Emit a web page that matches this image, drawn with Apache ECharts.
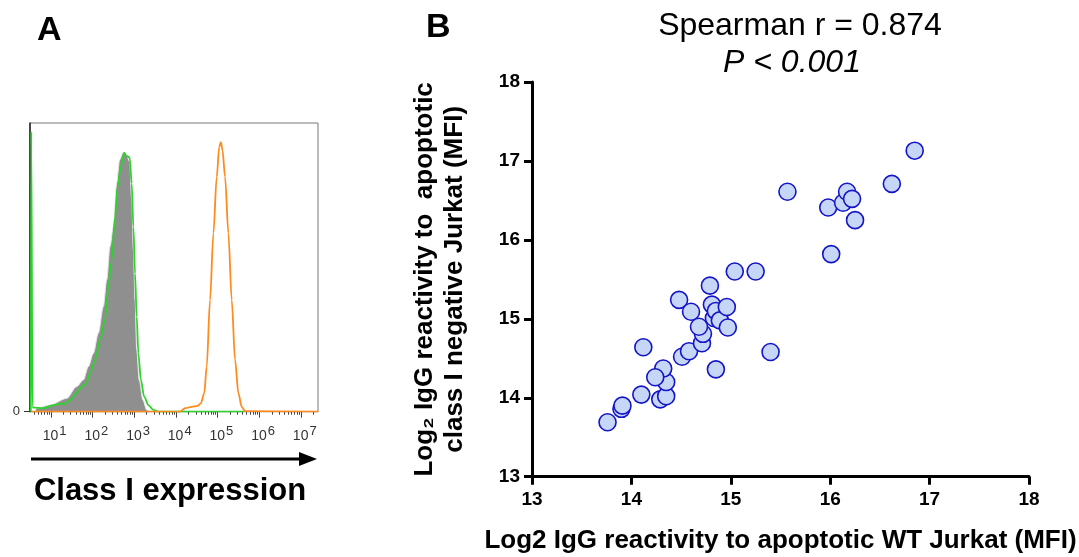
<!DOCTYPE html>
<html>
<head>
<meta charset="utf-8">
<script src="https://cdn.jsdelivr.net/npm/echarts@6/dist/echarts.min.js"></script>
<style>
html, body { margin: 0; padding: 0; background: #fff; }
#chart { width: 1079px; height: 557px; }
</style>
</head>
<body>
<div id="chart"></div>
<script>
// Panel A - flow histograms, x = log10(fluorescence), y = % of frame height
var isoGray = [[0.62,0],[0.66,1.2],[0.98,2.3],[1.38,4.6],[1.62,8.7],[1.78,11],[1.90,15.6],[2.02,20.2],
  [2.14,27.2],[2.26,36.4],[2.34,45.6],[2.42,57.2],[2.50,64.1],[2.58,79.1],[2.65,87.2],[2.73,89.7],
  [2.81,89.3],[2.89,86.6],[2.94,73.3],[2.98,56],[3.02,38.7],[3.06,21.4],[3.12,11],[3.21,4],[3.30,0.6],[3.38,0]];
var negGreen = [[0.52,0],[0.53,97],[0.56,1.5],[0.82,1.2],[1.06,2.3],[1.22,2.7],[1.34,2.7],[1.46,4],[1.62,6.4],
  [1.74,8.7],[1.86,9.8],[1.94,13.3],[2.06,17.9],[2.18,24.8],[2.30,31.7],[2.38,43.2],[2.46,52.4],[2.54,67.4],
  [2.60,77.8],[2.68,84.8],[2.76,89.7],[2.81,88.6],[2.89,88.1],[2.94,79.1],[2.98,64.1],[3.02,47.9],[3.06,32.9],
  [3.10,20.2],[3.16,11],[3.24,5.2],[3.34,2.3],[3.46,0.6],[3.58,0],[5.62,0]];
var wtOrange = [[0.54,0],[4.10,0],[4.22,1.2],[4.38,1.7],[4.52,2],[4.60,2.9],[4.68,6.4],[4.74,15.6],[4.82,38.7],
  [4.90,61.8],[4.98,81.3],[5.04,91.7],[5.08,93.4],[5.12,90.5],[5.18,81.3],[5.26,61.8],[5.34,38.7],[5.42,17.9],
  [5.50,6.4],[5.58,1.7],[5.66,0.2],[7.42,0]];
var decades = [1, 2, 3, 4, 5, 6, 7];

// Panel B - log2 IgG reactivity (MFI)
var wtJurkat = [13.76,13.90,13.91,14.10,14.12,14.29,14.35,14.35,14.32,14.24,14.51,14.58,14.48,14.60,14.71,14.72,
  14.68,14.79,14.81,14.83,14.85,14.89,14.96,14.97,14.85,15.04,15.25,15.40,16.01,15.57,15.98,16.13,16.17,16.22,
  16.25,16.62,16.85];
var negJurkat = [13.69,13.86,13.90,14.04,14.64,13.98,14.02,14.20,14.37,14.26,14.52,14.59,15.24,15.09,14.69,14.81,
  14.90,15.42,15.18,15.01,15.10,14.98,15.15,14.89,14.36,15.60,15.60,14.58,15.82,16.61,16.41,16.47,16.61,16.52,
  16.25,16.71,17.13];

var minorTicks = [];
decades.concat([0]).forEach(function (d) {
  for (var k = 2; k <= 9; k++) minorTicks.push(d + Math.log10(k));
});

var points = wtJurkat.map(function (x, i) { return [x, negJurkat[i]]; });

var chart = echarts.init(document.getElementById('chart'));
var bold = { fontFamily: 'Liberation Sans, Arial, sans-serif', fontWeight: 'bold', color: '#000' };

option = {
  backgroundColor: '#fff',
  animation: false,
  grid: [
    { left: 30, top: 123, width: 288, height: 288.7, show: true, borderColor: '#777', borderWidth: 1,
      outerBoundsMode: 'none' },
    { left: 532, right: 50, top: 82, bottom: 80.3, outerBoundsMode: 'none' }
  ],
  xAxis: [
    {
      gridIndex: 0, type: 'value', min: 0.5, max: 7.41, position: 'bottom',
      axisLine: { show: false }, splitLine: { show: false },
      axisTick: { customValues: decades, length: 6, lineStyle: { color: '#444' } },
      axisLabel: {
        customValues: decades, margin: 13, color: '#333',
        // "10" sits on the tick, exponent hangs to its right
        formatter: function (v) { var n = Math.round(v); return '{g|' + n + '}{b|10}{s|' + n + '}'; },
        rich: {
          g: { fontSize: 12, fontFamily: 'Liberation Sans', color: 'rgba(0,0,0,0)', padding: [0, 1, 0, 0] },
          b: { fontSize: 14, fontFamily: 'Liberation Sans', color: '#333' },
          s: { fontSize: 13, fontFamily: 'Liberation Sans', color: '#333', padding: [0, 0, 10, 1] }
        }
      }
    },
    {
      gridIndex: 0, type: 'value', min: 0.5, max: 7.41, position: 'bottom',
      axisLine: { show: false }, splitLine: { show: false }, axisLabel: { show: false },
      axisTick: { customValues: minorTicks, length: 3, lineStyle: { color: '#444' } }
    },
    {
      gridIndex: 1, type: 'value', min: 13, max: 18, interval: 1,
      name: 'Log2 IgG reactivity to apoptotic WT Jurkat (MFI)',
      nameLocation: 'middle', nameGap: 51,
      nameTextStyle: Object.assign({ fontSize: 26 }, bold),
      axisLine: { lineStyle: { color: '#000', width: 3 } },
      axisTick: { length: 8, lineStyle: { color: '#000', width: 3 } },
      axisLabel: Object.assign({ fontSize: 19, margin: 14 }, bold),
      splitLine: { show: false }
    }
  ],
  yAxis: [
    {
      gridIndex: 0, type: 'value', min: 0, max: 100,
      axisLine: { show: true, lineStyle: { color: '#222', width: 1.5 } },
      axisTick: { customValues: [0], length: 6, lineStyle: { color: '#333' } },
      axisLabel: { customValues: [0], fontSize: 13, color: '#333', margin: 10 },
      splitLine: { show: false }
    },
    {
      gridIndex: 1, type: 'value', min: 13, max: 18, interval: 1,
      name: 'Log\u2082 IgG reactivity to  apoptotic\nclass I negative Jurkat (MFI)',
      nameLocation: 'middle', nameGap: 62, nameRotate: 90,
      nameTextStyle: Object.assign({ fontSize: 26, lineHeight: 30 }, bold),
      axisLine: { lineStyle: { color: '#000', width: 3 } },
      axisTick: { length: 8, lineStyle: { color: '#000', width: 3 } },
      axisLabel: Object.assign({ fontSize: 19, margin: 12 }, bold),
      splitLine: { show: false }
    }
  ],
  series: [
    {
      type: 'line', xAxisIndex: 0, yAxisIndex: 0, data: isoGray, symbol: 'none',
      smooth: 0.3, smoothMonotone: 'x',
      lineStyle: { color: '#e6e6e6', width: 1 },
      areaStyle: { color: '#8f8f8f', opacity: 1 }
    },
    {
      type: 'line', xAxisIndex: 0, yAxisIndex: 0, data: negGreen, symbol: 'none',
      smooth: 0.3, smoothMonotone: 'x',
      lineStyle: { color: '#2bd42b', width: 1.8 }
    },
    {
      type: 'line', xAxisIndex: 0, yAxisIndex: 0, data: wtOrange, symbol: 'none',
      smooth: 0.3, smoothMonotone: 'x',
      lineStyle: { color: '#ff8a1e', width: 1.8 }
    },
    {
      type: 'scatter', xAxisIndex: 2, yAxisIndex: 1, data: points,
      symbol: 'circle', symbolSize: 17,
      itemStyle: { color: '#c6d6f6', borderColor: '#1414c8', borderWidth: 1.6, opacity: 1 }
    }
  ],
  graphic: [
    { type: 'text', left: 37, top: 14, style: { text: 'A', font: 'bold 34px Liberation Sans', fill: '#000' } },
    { type: 'text', left: 426, top: 11, style: { text: 'B', font: 'bold 34px Liberation Sans', fill: '#000' } },
    { type: 'text', x: 800, y: 26, style: { text: 'Spearman r = 0.874', font: '32px Liberation Sans',
      fill: '#000', textAlign: 'center', textVerticalAlign: 'middle' } },
    { type: 'text', x: 792, y: 63, style: { text: 'P < 0.001', font: 'italic 32px Liberation Sans',
      fill: '#000', textAlign: 'center', textVerticalAlign: 'middle' } },
    { type: 'line', shape: { x1: 31, y1: 459, x2: 302, y2: 459 }, style: { stroke: '#000', lineWidth: 3 } },
    { type: 'polygon', shape: { points: [[299, 452], [317, 459], [299, 466]] }, style: { fill: '#000' } },
    { type: 'text', x: 170, y: 491, style: { text: 'Class I expression', font: 'bold 31px Liberation Sans',
      fill: '#000', textAlign: 'center', textVerticalAlign: 'middle' } }
  ]
};

chart.setOption(option);
</script>
</body>
</html>
